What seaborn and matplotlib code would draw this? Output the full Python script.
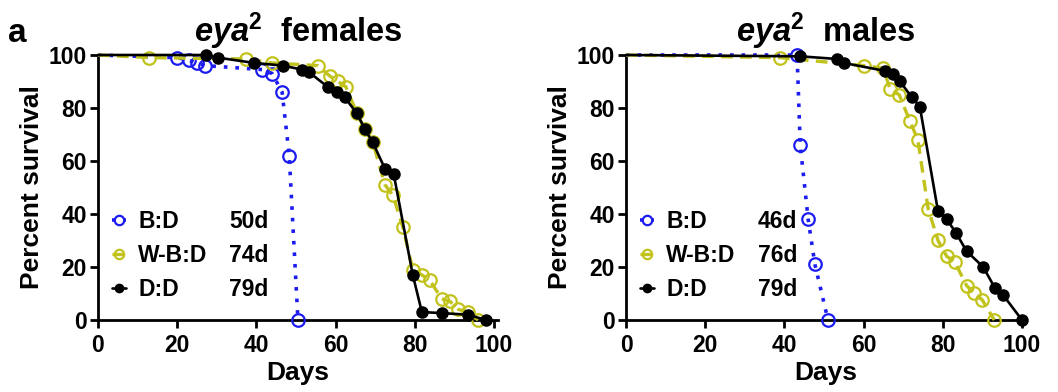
import matplotlib
matplotlib.use("Agg")
import matplotlib.pyplot as plt
import seaborn as sns
from matplotlib.lines import Line2D

# ---- data ----
f_bd_days = [0, 20, 23, 25, 27, 41.5, 44, 46.5, 48.3, 50.5]
f_bd_surv = [100, 99, 98, 97, 96, 94.5, 93, 86, 62, 0]
f_wbd_days = [0, 13, 37.5, 44, 55.5, 58.6, 60.6, 62.6, 65.4, 67.4, 69.4, 72.5, 74.5, 77, 79.5, 81.8, 83.8, 86.8, 88.9, 91, 93.4, 96]
f_wbd_surv = [100, 99, 98.5, 97, 96, 92, 90, 88, 78, 72, 67, 51, 47, 35, 19, 17, 15, 8, 7, 4, 3, 0]
f_dd_days = [0, 27.2, 30.3, 39.5, 46.7, 51.5, 53.3, 58, 60.3, 62.3, 65.4, 67.4, 69.4, 72.5, 74.7, 79.5, 81.8, 86.8, 93.4, 98]
f_dd_surv = [100, 100, 99, 97, 96, 94.5, 93.5, 88, 86, 84, 78, 72, 67, 57, 55, 17, 3, 2.6, 2, 0]

m_bd_days = [0, 43.2, 44, 46, 47.7, 51]
m_bd_surv = [100, 100, 66, 38, 21, 0]
m_wbd_days = [0, 39, 60, 65, 66.7, 69, 71.7, 73.7, 76.3, 78.8, 81, 83, 86, 88, 90, 93]
m_wbd_surv = [100, 99, 96, 95, 87, 85, 75, 68, 42, 30, 24, 22, 13, 10, 7.5, 0]
m_dd_days = [0, 44, 53.3, 55, 65.4, 67.4, 69.2, 72.2, 74.2, 78.8, 81, 83.3, 86, 90.2, 93.2, 95.2, 100]
m_dd_surv = [100, 99.5, 98.5, 97, 94, 93, 90, 84, 80.5, 41, 38, 33, 26, 20, 12, 9.5, 0]

groups = ["B:D", "W-B:D", "D:D"]
female_medians = ["50d", "74d", "79d"]
male_medians = ["46d", "76d", "79d"]
titles = ["females", "males"]
x_ticks = [0, 20, 40, 60, 80, 100]
y_ticks = [0, 20, 40, 60, 80, 100]

sns.set_theme(style="ticks")
plt.rcParams["font.family"] = ["Liberation Sans", "DejaVu Sans"]
plt.rcParams["font.weight"] = "bold"
for k in ["text.color", "axes.labelcolor", "xtick.color", "ytick.color", "axes.titlecolor"]:
    plt.rcParams[k] = "black"
plt.rcParams["mathtext.fontset"] = "custom"
plt.rcParams["mathtext.bfit"] = "Liberation Sans:italic:bold"
plt.rcParams["mathtext.bf"] = "Liberation Sans:bold"
plt.rcParams["mathtext.rm"] = "Liberation Sans:bold"
plt.rcParams["mathtext.it"] = "Liberation Sans:italic:bold"

BLUE = "#1c1cf0"
YEL = "#c2c21c"
BLK = "#000000"

styles = [
    dict(color=BLUE, linestyle=(0, (1, 2.2)), linewidth=2.6, marker="o", markersize=9,
         markerfacecolor="none", markeredgecolor=BLUE, markeredgewidth=1.6),
    dict(color=YEL, linestyle=(0, (3.5, 2.2)), linewidth=2.4, marker="o", markersize=9,
         markerfacecolor="none", markeredgecolor=YEL, markeredgewidth=1.6),
    dict(color=BLK, linestyle="-", linewidth=1.9, marker="o", markersize=8,
         markerfacecolor=BLK, markeredgecolor=BLK, markeredgewidth=1),
]

TICK_FS = 16.5
LAB_FS = 19
LEG_FS = 16.5

fig = plt.figure(figsize=(10.58, 3.92), dpi=100)
ax1 = fig.add_axes([0.0926, 0.1837, 0.378, 0.676])
ax2 = fig.add_axes([0.5917, 0.1837, 0.378, 0.676])

panels = [
    (ax1, [(f_bd_days, f_bd_surv), (f_wbd_days, f_wbd_surv), (f_dd_days, f_dd_surv)], female_medians, titles[0]),
    (ax2, [(m_bd_days, m_bd_surv), (m_wbd_days, m_wbd_surv), (m_dd_days, m_dd_surv)], male_medians, titles[1]),
]

for ax, series, medians, title in panels:
    for (d, s), st in zip(series, styles):
        sns.lineplot(x=d, y=s, ax=ax, sort=False, estimator=None,
                     markevery=list(range(1, len(d))), clip_on=False, zorder=3, **st)
    ax.set_xlim(0, 101)
    ax.set_ylim(0, 100)
    ax.set_xticks(x_ticks)
    ax.set_yticks(y_ticks)
    for sp in ["top", "right"]:
        ax.spines[sp].set_visible(False)
    for sp in ["left", "bottom"]:
        ax.spines[sp].set_linewidth(2)
        ax.spines[sp].set_color("black")
    ax.tick_params(axis="both", direction="out", length=6, width=2, labelsize=TICK_FS,
                   colors="black", pad=2)
    ax.tick_params(axis="x", pad=4)
    for lab in ax.get_xticklabels() + ax.get_yticklabels():
        lab.set_fontweight("bold")
    ax.set_xlabel("Days", fontsize=LAB_FS, fontweight="bold", labelpad=3)
    ax.set_ylabel("Percent survival", fontsize=LAB_FS, fontweight="bold", labelpad=3)
    ax.set_title(r"$\mathbfit{eya}^{\mathbf{2}}$  " + title, fontsize=23.5,
                 fontweight="bold", pad=9, color="black")

    handles = [Line2D([], [], **{k: v for k, v in st.items()}) for st in styles]
    blanks = [Line2D([], [], linestyle="none", marker="none") for _ in styles]
    ax.legend(handles + blanks, groups + medians, ncol=2, loc="lower left",
              bbox_to_anchor=(0.035, 0.072), frameon=False,
              handlelength=0.6, handletextpad=0.55, columnspacing=-0.2,
              labelspacing=0.48, borderpad=0, borderaxespad=0, markerscale=0.75,
              prop={"weight": "bold", "size": LEG_FS})

fig.text(0.008, 0.955, "a", fontsize=24, fontweight="bold", va="top")

fig.savefig("out.png", dpi=100)
